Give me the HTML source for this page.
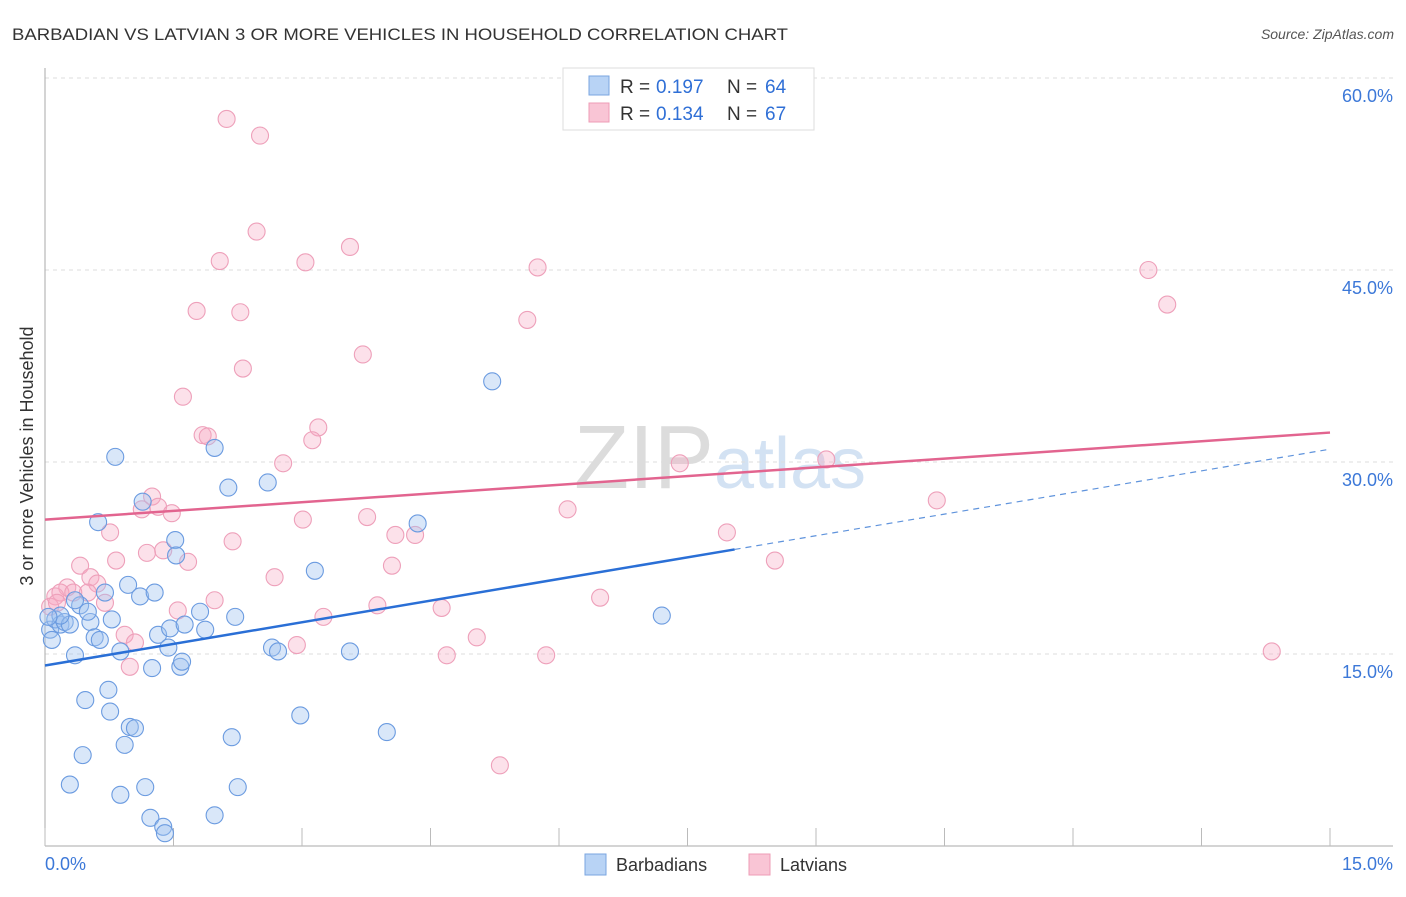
<!DOCTYPE html>
<html><head><meta charset="utf-8"><style>
body{margin:0;background:#fff;font-family:"Liberation Sans",sans-serif;}
svg text{font-family:"Liberation Sans",sans-serif;}
</style></head><body>
<svg id="chart" width="1406" height="892" xmlns="http://www.w3.org/2000/svg">
<text x="12" y="40" font-size="17" fill="#333" textLength="776" lengthAdjust="spacingAndGlyphs">BARBADIAN VS LATVIAN 3 OR MORE VEHICLES IN HOUSEHOLD CORRELATION CHART</text>
<text x="1394" y="39" font-size="14" fill="#555" text-anchor="end" font-style="italic">Source: ZipAtlas.com</text>
<text x="720" y="488" font-size="90" text-anchor="middle" fill="#e6e6e6" font-family="Liberation Serif"><tspan fill="#dcdcdc">ZIP</tspan><tspan fill="#d3e2f3" font-family="Liberation Sans" font-size="72">atlas</tspan></text>
<text transform="translate(33,456) rotate(-90)" font-size="18" fill="#333" text-anchor="middle">3 or more Vehicles in Household</text>
<g id="grid"></g><g id="pts"></g><g id="lines"></g>
<g>
<rect x="563" y="68" width="251" height="62" fill="#fff" stroke="#ddd"/>
<rect x="589" y="76" width="20" height="19" fill="#b8d3f5" stroke="#7aa6e0"/>
<rect x="589" y="103" width="20" height="19" fill="#f9c5d5" stroke="#ee9cb6"/>
<text x="620" y="93" font-size="19" fill="#333">R =</text>
<text x="656" y="93" font-size="19" fill="#2f6fd6">0.197</text>
<text x="727" y="93" font-size="19" fill="#333">N =</text>
<text x="765" y="93" font-size="19" fill="#2f6fd6">64</text>
<text x="620" y="120" font-size="19" fill="#333">R =</text>
<text x="656" y="120" font-size="19" fill="#2f6fd6">0.134</text>
<text x="727" y="120" font-size="19" fill="#333">N =</text>
<text x="765" y="120" font-size="19" fill="#2f6fd6">67</text>
</g>
<g>
<rect x="585" y="854" width="21" height="21" fill="#b8d3f5" stroke="#7aa6e0"/>
<text x="616" y="871" font-size="18" fill="#333">Barbadians</text>
<rect x="749" y="854" width="21" height="21" fill="#f9c5d5" stroke="#ee9cb6"/>
<text x="780" y="871" font-size="18" fill="#333">Latvians</text>
</g>
</svg>
<script>
const yTicks=[15,30,45,60];
const yTickLabels=["15.0%","30.0%","45.0%","60.0%"];
const xTicks=[0,1.5,3,4.5,6,7.5,9,10.5,12,13.5,15];
const barbX=[0.06,0.08,0.12,0.18,0.23,0.29,0.35,0.41,0.47,0.44,0.53,0.58,0.64,0.62,0.70,0.74,0.76,0.78,0.82,0.88,0.93,0.97,0.99,1.05,1.11,1.14,1.17,1.23,1.28,1.25,1.32,1.38,1.40,1.44,1.46,1.52,1.53,1.58,1.60,1.63,1.81,1.87,1.98,1.98,2.14,2.18,2.22,2.25,2.60,2.65,2.72,2.98,3.15,3.56,3.99,4.35,5.22,7.20,0.29,0.88,0.35,0.18,0.50,0.04];
const barbY=[16.9,16.1,17.7,17.3,17.5,17.3,14.9,18.8,11.4,7.1,17.5,16.3,16.1,25.3,19.8,12.2,10.5,17.7,30.4,15.2,7.9,20.4,9.3,9.2,19.5,26.9,4.6,2.2,19.8,13.9,16.5,1.5,1.0,15.5,17.0,23.9,22.7,14.0,14.4,17.3,18.3,16.9,31.1,2.4,28.0,8.5,17.9,4.6,28.4,15.5,15.2,10.2,21.5,15.2,8.9,25.2,36.3,18.0,4.8,4.0,19.2,18.0,18.3,17.9];
const latX=[2.12,2.51,2.47,3.56,2.04,3.04,5.75,1.77,2.28,5.63,3.71,2.31,1.61,3.19,1.84,1.90,3.12,2.78,7.41,9.12,1.25,1.13,1.32,1.48,3.01,3.76,6.10,10.41,0.76,2.19,4.09,4.32,7.96,1.19,1.38,1.67,0.83,0.41,4.05,2.68,0.53,0.61,0.26,0.50,0.12,0.18,0.33,0.70,1.98,3.88,6.48,0.06,0.14,1.55,4.63,3.25,0.93,1.05,2.94,5.04,0.99,4.69,5.85,8.52,14.32,5.31,12.88,13.10];
const latY=[56.8,55.5,48.0,46.8,45.7,45.6,45.2,41.8,41.7,41.1,38.4,37.3,35.1,32.7,32.1,32.0,31.7,29.9,29.9,30.2,27.3,26.3,26.5,26.0,25.5,25.7,26.3,27.0,24.5,23.8,24.3,24.3,24.5,22.9,23.1,22.2,22.3,21.9,21.9,21.0,21.0,20.5,20.2,19.8,19.5,19.8,19.8,19.0,19.2,18.8,19.4,18.7,19.0,18.4,18.6,17.9,16.5,15.9,15.7,16.3,14.0,14.9,14.9,22.3,15.2,6.3,45.0,42.3];
const barbTrend=[14.1,31.0]; const barbSolidEnd=8.05;
const latTrend=[25.5,32.3];
const X=v=>45+v/15*1285, Y=v=>846-v/15*192;
const NS="http://www.w3.org/2000/svg";
function mk(tag,attrs,parent){const e=document.createElementNS(NS,tag);for(const k in attrs)e.setAttribute(k,attrs[k]);parent.appendChild(e);return e;}
const grid=document.getElementById('grid');
yTicks.forEach((t,i)=>{
 const l=mk('line',{x1:45,x2:1393,y1:Y(t),y2:Y(t),stroke:'#ddd','stroke-dasharray':'4,4'},grid);
 
 
 const tx=mk('text',{x:1393,y:Y(t)+24,'font-size':18,fill:'#3c78d8','text-anchor':'end'},grid);
 tx.textContent=yTickLabels[i];
 
 
});
mk('line',{x1:45,x2:45,y1:68,y2:846,stroke:'#aaa'},grid);
mk('line',{x1:45,x2:1393,y1:846,y2:846,stroke:'#aaa'},grid);
xTicks.forEach(t=>{const l=mk('line',{x1:X(t),x2:X(t),y1:828,y2:846,stroke:'#bbb'},grid);
 
 });
const x0=mk('text',{x:45,y:870,'font-size':18,fill:'#3c78d8'},grid);x0.textContent='0.0%';


const x1=mk('text',{x:1393,y:870,'font-size':18,fill:'#3c78d8','text-anchor':'end'},grid);x1.textContent='15.0%';


const pts=document.getElementById('pts');
latX.forEach((v,i)=>{const c=mk('circle',{cx:X(v),cy:Y(latY[i]),r:8.5,fill:'rgba(245,170,195,0.35)',stroke:'#eea0ba','stroke-width':1.1},pts);
 
 });
barbX.forEach((v,i)=>{const c=mk('circle',{cx:X(v),cy:Y(barbY[i]),r:8.5,fill:'rgba(160,195,240,0.4)',stroke:'#6b9be0','stroke-width':1.1},pts);
 
 });
const ln=document.getElementById('lines');
const bAt=x=>barbTrend[0]+(barbTrend[1]-barbTrend[0])*x/15;
let a=mk('line',{x1:X(0),y1:Y(latTrend[0]),x2:X(15),y2:Y(latTrend[1]),stroke:'#e2648f','stroke-width':2.5},ln);


a=mk('line',{x1:X(0),y1:Y(bAt(0)),x2:X(barbSolidEnd),y2:Y(bAt(barbSolidEnd)),stroke:'#2a6fd6','stroke-width':2.5},ln);


a=mk('line',{x1:X(barbSolidEnd),y1:Y(bAt(barbSolidEnd)),x2:X(15),y2:Y(bAt(15)),stroke:'#5f93dc','stroke-width':1.2,'stroke-dasharray':'6,5'},ln);


</script>
</body></html>
